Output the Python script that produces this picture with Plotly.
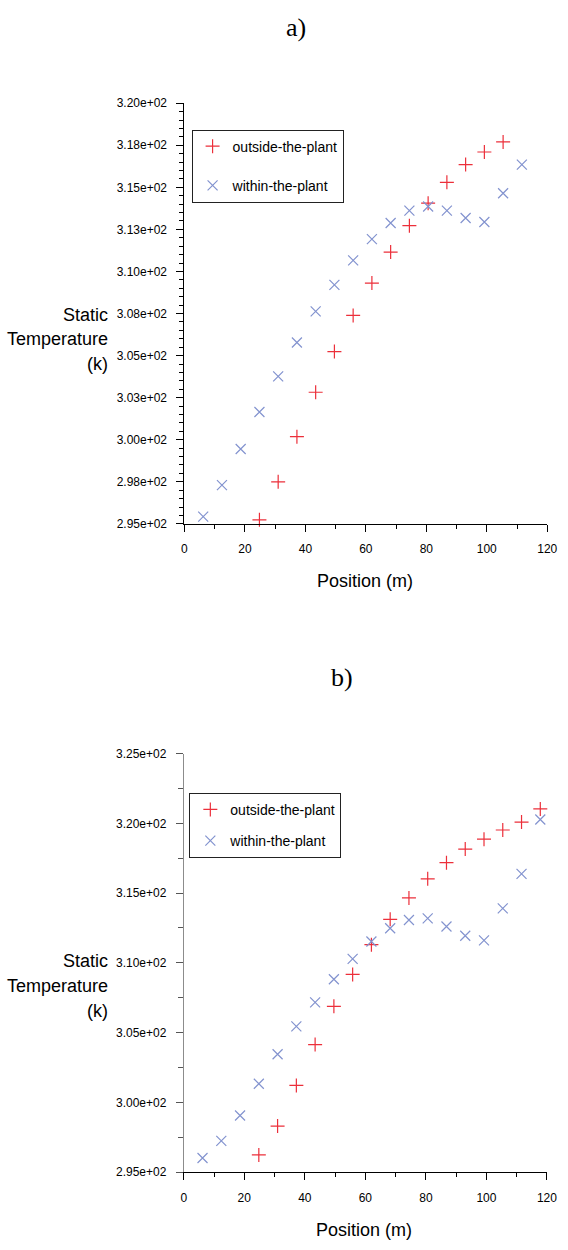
import plotly.graph_objects as go

W, H = 568, 1250

# ---- data ----
a_out_x = [24.8, 31.0, 37.2, 43.4, 49.6, 55.8, 62.0, 68.2, 74.4, 80.6, 86.8, 93.0, 99.2, 105.4]
a_out_y = [295.24, 297.5, 300.18, 302.82, 305.24, 307.39, 309.31, 311.15, 312.72, 314.06, 315.3, 316.35, 317.1, 317.7]
a_in_x = [6.2, 12.4, 18.6, 24.8, 31.0, 37.2, 43.4, 49.6, 55.8, 62.0, 68.2, 74.4, 80.6, 86.8, 93.0, 99.2, 105.4, 111.6]
a_in_y = [295.43, 297.3, 299.45, 301.65, 303.76, 305.78, 307.63, 309.2, 310.66, 311.92, 312.88, 313.62, 313.86,
          313.62, 313.18, 312.94, 314.65, 316.35]

b_out_x = [24.8, 31.0, 37.2, 43.4, 49.6, 55.8, 62.0, 68.2, 74.4, 80.6, 86.8, 93.0, 99.2, 105.4, 111.6, 117.8]
b_out_y = [296.23, 298.3, 301.21, 304.14, 306.88, 309.17, 311.3, 313.12, 314.65, 316.02, 317.18, 318.15, 318.86,
           319.52, 320.09, 321.03]
b_in_x = [6.2, 12.4, 18.6, 24.8, 31.0, 37.2, 43.4, 49.6, 55.8, 62.0, 68.2, 74.4, 80.6, 86.8, 93.0, 99.2, 105.4,
          111.6, 117.8]
b_in_y = [296.01, 297.24, 299.06, 301.33, 303.45, 305.44, 307.16, 308.82, 310.28, 311.53, 312.48, 313.07, 313.19,
          312.6, 311.94, 311.61, 313.9, 316.38, 320.27]

a_ytickvals = [295, 297.5, 300, 302.5, 305, 307.5, 310, 312.5, 315, 317.5, 320]
a_yticktext = ["2.95e+02", "2.98e+02", "3.00e+02", "3.03e+02", "3.05e+02", "3.08e+02", "3.10e+02",
               "3.13e+02", "3.15e+02", "3.18e+02", "3.20e+02"]
b_ytickvals = [295, 300, 305, 310, 315, 320, 325]
b_yticktext = ["2.95e+02", "3.00e+02", "3.05e+02", "3.10e+02", "3.15e+02", "3.20e+02", "3.25e+02"]
xtickvals = [0, 20, 40, 60, 80, 100, 120]
series_names = ["outside-the-plant", "within-the-plant"]
panel_labels = ["a)", "b)"]
y_title_lines = ["Static", "Temperature", "(k)"]
x_title = "Position (m)"

RED = "#ec2f3a"
BLUE = "#8393cf"
FONT = "Liberation Sans Narrow, Arial Narrow, Liberation Sans, Arial, sans-serif"
SERIF = "Liberation Serif, Times New Roman, serif"


def px_x(p):
    return p / W


def px_y(p):
    return 1 - p / H


def minor_positions(lo, hi, step):
    n = int(round((hi - lo) / step))
    return [lo + i * step for i in range(n + 1)]


fig = go.Figure()


def add_pair(ox, oy, ix, iy, xa, ya, leg):
    fig.add_trace(go.Scatter(x=ox, y=oy, mode="markers", name=series_names[0], xaxis=xa, yaxis=ya,
                             legend=leg, legendgroup=leg + "o", cliponaxis=False,
                             marker=dict(symbol="cross-thin-open", size=10, color=RED,
                                         line=dict(color=RED, width=1.2))))
    fig.add_trace(go.Scatter(x=ix, y=iy, mode="markers", name=series_names[1], xaxis=xa, yaxis=ya,
                             legend=leg, legendgroup=leg + "i", cliponaxis=False,
                             marker=dict(symbol="x-thin-open", size=10, color=BLUE,
                                         line=dict(color=BLUE, width=1.2))))


add_pair(a_out_x, a_out_y, a_in_x, a_in_y, "x", "y", "legend")
add_pair(b_out_x, b_out_y, b_in_x, b_in_y, "x2", "y2", "legend2")

tf = dict(family=FONT, size=12, color="black")


def xaxis_cfg(domain, anchor):
    return dict(domain=domain, anchor=anchor, range=[0, 120], tickmode="array", tickvals=xtickvals,
                ticks="outside", ticklen=7, tickcolor="black", showline=True, linecolor="black",
                linewidth=1, showgrid=False, zeroline=False, tickfont=tf, ticklabeloverflow="allow",
                ticklabelstandoff=7,
                minor=dict(tickmode="array", tickvals=minor_positions(0, 120, 10), ticks="outside",
                           ticklen=4, tickcolor="black", showgrid=False))


fig.update_layout(
    width=W, height=H, autosize=False,
    margin=dict(l=0, r=0, t=0, b=0),
    paper_bgcolor="white", plot_bgcolor="white",
    xaxis=xaxis_cfg([px_x(185.7), px_x(557)], "y"),
    yaxis=dict(domain=[px_y(522.7), px_y(97.3)], anchor="x", range=[295, 320],
               tickmode="array", tickvals=a_ytickvals, ticktext=a_yticktext,
               ticks="outside", ticklen=7, tickcolor="black", showline=True, linecolor="black",
               linewidth=1, showgrid=False, zeroline=False, tickfont=tf, ticklabelstandoff=7,
               minor=dict(tickmode="array", tickvals=minor_positions(295, 320, 0.5), ticks="outside",
                          ticklen=4, tickcolor="black", showgrid=False)),
    xaxis2=xaxis_cfg([px_x(185), px_x(556.7)], "y2"),
    yaxis2=dict(domain=[px_y(1178.3), px_y(755)], anchor="x2", range=[295, 325],
                tickmode="array", tickvals=b_ytickvals, ticktext=b_yticktext,
                ticks="outside", ticklen=7, tickcolor="#555555", showline=True, linecolor="#8c8c8c",
                linewidth=1, showgrid=False, zeroline=False, tickfont=tf, ticklabelstandoff=7,
                minor=dict(tickmode="array", tickvals=minor_positions(295, 325, 2.5), ticks="outside",
                           ticklen=5, tickcolor="#555555", showgrid=False)),
    legend=dict(x=px_x(193), y=px_y(124), xanchor="left", yanchor="top", bgcolor="white",
                bordercolor="#222222", borderwidth=1, font=dict(family=FONT, size=14, color="black"),
                traceorder="grouped", tracegroupgap=18, itemwidth=30),
    legend2=dict(x=px_x(190.7), y=px_y(794.7), xanchor="left", yanchor="top", bgcolor="white",
                 bordercolor="#222222", borderwidth=1, font=dict(family=FONT, size=14, color="black"),
                 traceorder="grouped", tracegroupgap=10, itemwidth=30),
    showlegend=True,
)

annotations = [
    dict(text=panel_labels[0], x=px_x(300), y=px_y(21), font=dict(family=SERIF, size=26, color="black")),
    dict(text=panel_labels[1], x=px_x(347), y=px_y(678), font=dict(family=SERIF, size=26, color="black")),
    dict(text=x_title, x=px_x(370), y=px_y(581), font=dict(family=FONT, size=18, color="black")),
    dict(text=x_title, x=px_x(369), y=px_y(1237), font=dict(family=FONT, size=18, color="black")),
]
for yc in (311, 965):
    for i, line in enumerate(y_title_lines):
        annotations.append(dict(text=line, x=px_x(109), y=px_y(yc + 25 * i), xanchor="right",
                                font=dict(family=FONT, size=18, color="black")))
for a in annotations:
    a.update(xref="paper", yref="paper", showarrow=False)
    a.setdefault("xanchor", "center")
    a.setdefault("yanchor", "middle")
fig.update_layout(annotations=annotations)

fig.write_html("out.html", config={"displayModeBar": False},
               post_script="document.body.style.margin='0';document.body.style.overflow='hidden';")
